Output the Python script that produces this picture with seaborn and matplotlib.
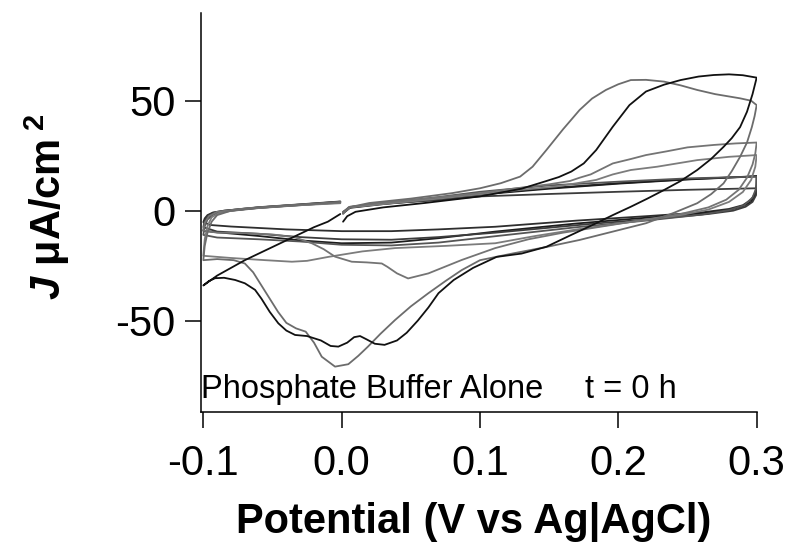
import numpy as np
import pandas as pd
import matplotlib
matplotlib.use("Agg")
import matplotlib.pyplot as plt
import seaborn as sns

# ---------------- data ----------------
# potential (V vs Ag|AgCl) and current density (uA/cm2) for each CV cycle,
# each traced 0 V -> 0.3 V -> -0.1 V -> 0 V
cycle_a_v = [0.001, 0.004, 0.01, 0.03, 0.06, 0.1, 0.13, 0.148, 0.157, 0.166, 0.175, 0.184, 0.196, 0.208,
             0.22, 0.233, 0.245, 0.258, 0.269, 0.28, 0.29, 0.3,
             0.297, 0.293, 0.288, 0.282, 0.276, 0.267, 0.257, 0.245, 0.233, 0.221, 0.209, 0.196, 0.184,
             0.166, 0.148, 0.13, 0.112, 0.095, 0.081, 0.07, 0.0627, 0.055, 0.047, 0.04, 0.031, 0.024,
             0.018, 0.0133, 0.009, 0.004, -0.0024, -0.008, -0.015, -0.025, -0.0337, -0.04, -0.0458,
             -0.052, -0.058, -0.0626, -0.07, -0.077, -0.085, -0.0915, -0.096, -0.1,
             -0.09, -0.08, -0.07, -0.06, -0.05, -0.04, -0.03, -0.02, -0.01, -0.001]
cycle_a_j = [-5, -2.5, -0.5, 1.5, 3.5, 6.5, 10, 13.5, 15.3, 17.8, 21.5, 27.6, 38.2, 48,
             54.2, 57.3, 59.4, 61, 61.7, 62, 61.6, 60.5,
             53, 45, 38, 33, 29, 23.5, 18.5, 13.5, 9.4, 5.5, 1.8, -2, -5.7,
             -11, -16.4, -19.5, -21, -26, -31.5, -37.5, -44, -50, -55.5, -59, -61, -60.5,
             -58.5, -57, -57.5, -60, -61.8, -61.5, -59, -57, -56.5, -54.5, -51.2,
             -46, -40, -36, -33, -31.5, -30.5, -30.7, -32, -34,
             -29.5, -26, -22.5, -19.5, -16.5, -13.5, -10.5, -7.5, -5, -1.5]

cycle_b_v = [0.001, 0.005, 0.02, 0.05, 0.08, 0.1, 0.115, 0.129, 0.138, 0.148, 0.16, 0.172, 0.181,
             0.191, 0.2, 0.209, 0.22, 0.233, 0.245, 0.257, 0.27, 0.288, 0.296, 0.3,
             0.2985, 0.2965, 0.293, 0.288, 0.282, 0.276, 0.267, 0.257, 0.24, 0.22, 0.196, 0.172,
             0.148, 0.124, 0.1, 0.0868, 0.075, 0.0627, 0.05, 0.0386, 0.028, 0.019, 0.012, 0.0048,
             -0.0048, -0.0144, -0.02, -0.026, -0.033, -0.04, -0.046, -0.052, -0.058, -0.064, -0.07,
             -0.078, -0.09, -0.1,
             -0.099, -0.097, -0.094, -0.09, -0.08, -0.06, -0.03, -0.001]
cycle_b_j = [-1, 1.5, 3.5, 5.5, 8, 10.2, 12.5, 15.5, 20, 27.6, 37, 45.8, 51,
             54.9, 57.5, 59.4, 59.5, 58.7, 57, 54.9, 53, 51.1, 50, 48,
             43, 38, 31, 24.5, 18, 12.4, 7.5, 3.4, -1, -5.7, -9.5, -13.3,
             -16.5, -19.4, -22.5, -27, -32, -37.5, -43.5, -49.7, -56, -61.8, -66, -69.8,
             -70.9, -66.4, -60, -55, -53.5, -51, -46, -40, -34, -28, -24,
             -22.5, -22, -22.5,
             -16, -10, -5, -2, 0, 1.5, 2.8, 4]

cycle_c_v = [0.001, 0.005, 0.02, 0.05, 0.1, 0.13, 0.15, 0.165, 0.172, 0.18, 0.196, 0.209, 0.22,
             0.235, 0.25, 0.269, 0.285, 0.3,
             0.299, 0.297, 0.293, 0.287, 0.278, 0.265, 0.245, 0.22, 0.19, 0.16, 0.135, 0.111,
             0.0868, 0.0627, 0.048, 0.04, 0.033, 0.029, 0.018, 0.0073, -0.0048, -0.013, -0.0216,
             -0.034, -0.05, -0.07, -0.09, -0.1,
             -0.099, -0.096, -0.09, -0.07, -0.04, -0.001]
cycle_c_j = [-1.5, 1.5, 3, 4.8, 8, 10.5, 12, 13.5, 15, 16.5, 21.5, 23.5, 25.3,
             27, 28.8, 29.9, 30.6, 31,
             26, 21, 15, 9.5, 5, 1.5, -1.5, -4, -7, -10, -13, -17,
             -22.4, -28.5, -30.8, -28.5, -25.5, -24, -23.5, -23.2, -20.9, -17.5, -14.8,
             -12.1, -10.8, -10.2, -10, -9,
             -5.5, -2.5, -0.5, 1, 2.3, 3.6]

cycle_d_v = [0.001, 0.006, 0.03, 0.07, 0.1, 0.13, 0.155, 0.17, 0.184, 0.196, 0.209, 0.228, 0.257,
             0.28, 0.3,
             0.299, 0.296, 0.29, 0.28, 0.265, 0.245, 0.21, 0.17, 0.14, 0.111, 0.075, 0.0386, 0.015,
             -0.0096, -0.025, -0.036, -0.055, -0.08, -0.1,
             -0.099, -0.097, -0.094, -0.088, -0.07, -0.04, -0.001]
cycle_d_j = [-1, 1.5, 3, 5.5, 7.5, 9.5, 11, 12.5, 14, 16.5, 18.5, 20, 23,
             24.5, 25.3,
             20, 14, 8.5, 4, 0.5, -2, -5, -8.5, -11.5, -14.8, -16, -17, -18.5,
             -21, -22.8, -23.2, -22.5, -21.5, -20.5,
             -13, -7, -3, -0.8, 0.8, 2.2, 3.4]

cycle_e_v = [0.001, 0.006, 0.03, 0.07, 0.1, 0.15, 0.2, 0.25, 0.29, 0.3,
             0.3, 0.299, 0.296, 0.29, 0.28, 0.26, 0.22, 0.17, 0.111, 0.07, 0.036, 0.0, -0.04,
             -0.08, -0.095, -0.1,
             -0.099, -0.097, -0.093, -0.085, -0.06, -0.03, -0.001]
cycle_e_j = [-1, 1.5, 3.2, 5.5, 7.6, 10.3, 12.5, 14.3, 15.4, 15.8,
             12, 8, 5, 2.5, 0.8, -0.8, -2.5, -4.5, -7.3, -8.5, -9.3, -9.3, -8.5,
             -7.2, -6.5, -5.2,
             -3.5, -2, -0.8, 0, 1.5, 2.8, 4.1]

cycle_f_v = [0.001, 0.006, 0.03, 0.07, 0.1, 0.15, 0.2, 0.25, 0.3,
             0.3, 0.299, 0.296, 0.29, 0.28, 0.26, 0.22, 0.17, 0.111, 0.07, 0.036, 0.0, -0.03,
             -0.06, -0.09, -0.1,
             -0.099, -0.097, -0.093, -0.085, -0.06, -0.03, -0.001]
cycle_f_j = [-1.2, 1.3, 3, 5.2, 7.3, 10, 12.3, 14.2, 15.6,
             11, 7, 4, 2, 0.3, -1.2, -3.2, -5.8, -9.5, -12.5, -14.5, -14.8, -13.5,
             -11.5, -9.8, -9.2,
             -5.5, -3, -1.2, -0.2, 1.3, 2.6, 3.9]

cycle_g_v = [0.001, 0.006, 0.03, 0.07, 0.1, 0.15, 0.2, 0.25, 0.3,
             0.2995, 0.297, 0.292, 0.283, 0.265, 0.23, 0.18, 0.111, 0.07, 0.036, 0.0, -0.03,
             -0.06, -0.09, -0.1,
             -0.099, -0.097, -0.093, -0.085, -0.06, -0.03, -0.001]
cycle_g_j = [-0.5, 1.8, 3.2, 4.8, 6.5, 7.6, 8.6, 9.5, 10.2,
             7, 4, 1.8, 0, -1.5, -3.5, -6, -10, -12, -13.2, -13, -12,
             -10.5, -9.5, -7.5,
             -4.5, -2.5, -1, 0, 1.6, 2.9, 4.2]

cycle_h_v = [0.001, 0.006, 0.03, 0.07, 0.1, 0.15, 0.2, 0.25, 0.3,
             0.2995, 0.297, 0.291, 0.28, 0.26, 0.22, 0.17, 0.111, 0.07, 0.036, 0.0, -0.03,
             -0.06, -0.09, -0.1,
             -0.099, -0.097, -0.093, -0.085, -0.06, -0.03, -0.001]
cycle_h_j = [-1, 1.6, 3.5, 6.2, 8.6, 11.5, 13.2, 14.7, 15.5,
             10, 6, 2.5, 0.3, -1.8, -4.5, -7.5, -11.6, -14.5, -15.8, -15.5, -14,
             -13, -12.2, -11,
             -7, -4, -1.8, -0.4, 1.2, 2.5, 3.8]

cycle_names = ["E", "F", "G", "H", "D", "C", "B", "A"]
cycle_colors = {"A": "#111111", "B": "#6c6c6c", "C": "#747474", "D": "#7c7c7c",
                "E": "#2e2e2e", "F": "#1c1c1c", "G": "#3c3c3c", "H": "#555555"}

x_ticks = [-0.1, 0.0, 0.1, 0.2, 0.3]
x_tick_labels = ["-0.1", "0.0", "0.1", "0.2", "0.3"]
y_ticks = [-50, 0, 50]
y_tick_labels = ["-50", "0", "50"]

# ---------------- figure ----------------
sns.set_style("ticks", {"axes.edgecolor": "black", "xtick.color": "black",
                        "ytick.color": "black", "text.color": "black",
                        "axes.labelcolor": "black"})
plt.rcParams["font.family"] = ["Liberation Sans", "DejaVu Sans"]
plt.rcParams["axes.unicode_minus"] = False
plt.rcParams["mathtext.fontset"] = "custom"
plt.rcParams["mathtext.rm"] = "Liberation Sans:bold"
plt.rcParams["mathtext.it"] = "Liberation Sans:italic:bold"
plt.rcParams["mathtext.bf"] = "Liberation Sans:bold"

series = {"A": (cycle_a_v, cycle_a_j), "B": (cycle_b_v, cycle_b_j),
          "C": (cycle_c_v, cycle_c_j), "D": (cycle_d_v, cycle_d_j),
          "E": (cycle_e_v, cycle_e_j), "F": (cycle_f_v, cycle_f_j),
          "G": (cycle_g_v, cycle_g_j), "H": (cycle_h_v, cycle_h_j)}
frames = []
for name in cycle_names:
    v, j = series[name]
    frames.append(pd.DataFrame({"V": v, "J": j, "cycle": name}))
df = pd.concat(frames, ignore_index=True)

fig = plt.figure(figsize=(7.93, 5.48), dpi=100)
ax = fig.add_axes([0.2531, 0.2487, 0.7011, 0.7276])

sns.lineplot(data=df, x="V", y="J", hue="cycle", hue_order=cycle_names,
             palette=cycle_colors, sort=False, estimator=None, legend=False,
             linewidth=1.3, ax=ax)

ax.set_xlim(-0.1019, 0.3)
ax.set_ylim(-91.4, 89.9)
ax.set_xticks(x_ticks)
ax.set_xticklabels(x_tick_labels)
ax.set_yticks(y_ticks)
ax.set_yticklabels(y_tick_labels)
ax.tick_params(axis="both", direction="out", length=11.5, width=1.1, labelsize=30)
ax.tick_params(axis="x", pad=12)
ax.tick_params(axis="y", pad=6.7)
sns.despine(ax=ax)
for s in ("left", "bottom"):
    ax.spines[s].set_linewidth(1.1)
    ax.spines[s].set_color("black")

ax.set_xlabel("Potential (V vs Ag|AgCl)", fontsize=30, fontweight="bold")
ax.xaxis.set_label_coords(0.4906, -0.2265)
ax.set_ylabel(r"$\mathit{J}$ μA/cm$^{\;\mathbf{2}}$", fontsize=30, fontweight="bold")
ax.yaxis.set_label_coords(-0.2316, 0.513)

ax.text(0.0, 0.034, "Phosphate Buffer Alone", transform=ax.transAxes,
        fontsize=23.5, va="baseline", ha="left")
ax.text(0.691, 0.034, "t = 0 h", transform=ax.transAxes,
        fontsize=23.5, va="baseline", ha="left")

fig.savefig("out.png", dpi=100)
